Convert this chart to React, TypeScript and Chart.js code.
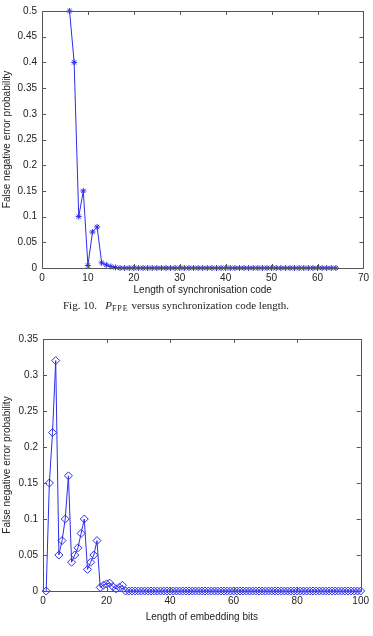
import React, { useEffect, useRef } from "react";
import { Chart, registerables } from "chart.js";

Chart.register(...registerables);

// Fig. 10: false negative error probability vs. synchronisation code length (6..64)
const syncStart = 6;
const syncErrorProb = [
  0.5, 0.4, 0.1, 0.15, 0.005, 0.07, 0.08, 0.01, 0.006, 0.003, 0.001,
  0, 0, 0, 0, 0, 0, 0, 0, 0, 0, 0, 0, 0, 0, 0, 0,
  0, 0, 0, 0, 0, 0, 0, 0, 0, 0, 0, 0, 0, 0, 0, 0,
  0, 0, 0, 0, 0, 0, 0, 0, 0, 0, 0, 0, 0, 0, 0, 0,
];
const syncXTicks = [0, 10, 20, 30, 40, 50, 60, 70];
const syncYMax = 0.5;

// Fig. 11: false negative error probability vs. embedding bit length (1..100)
const embedStart = 1;
const embedErrorProb = [
  0, 0.15, 0.22, 0.32, 0.05, 0.07, 0.1, 0.16, 0.04, 0.05,
  0.06, 0.08, 0.1, 0.03, 0.04, 0.05, 0.07, 0.005, 0.008, 0.01,
  0.011, 0.006, 0.003, 0.005, 0.008, 0, 0, 0, 0, 0,
  0, 0, 0, 0, 0, 0, 0, 0, 0, 0,
  0, 0, 0, 0, 0, 0, 0, 0, 0, 0,
  0, 0, 0, 0, 0, 0, 0, 0, 0, 0,
  0, 0, 0, 0, 0, 0, 0, 0, 0, 0,
  0, 0, 0, 0, 0, 0, 0, 0, 0, 0,
  0, 0, 0, 0, 0, 0, 0, 0, 0, 0,
  0, 0, 0, 0, 0, 0, 0, 0, 0, 0,
];
const embedXTicks = [0, 20, 40, 60, 80, 100];
const embedYMax = 0.35;

const yLabel = "False negative error probability";
const lineBlue = "rgb(45,45,235)";
const textColor = "#222";
const axisFont = "'Liberation Sans', Arial, Helvetica, sans-serif";

// Boxed axes with inward tick marks on all four sides
const boxAxes = {
  id: "boxAxes",
  afterDatasetsDraw(chart: any) {
    const { ctx, chartArea: a, scales } = chart;
    const len = 4;
    ctx.save();
    ctx.strokeStyle = "#555";
    ctx.lineWidth = 1;
    ctx.beginPath();
    ctx.rect(Math.round(a.left) + 0.5, Math.round(a.top) + 0.5, Math.round(a.right - a.left), Math.round(a.bottom - a.top));
    ctx.stroke();
    ctx.beginPath();
    scales.x.ticks.forEach((t: any) => {
      const px = Math.round(scales.x.getPixelForValue(t.value)) + 0.5;
      ctx.moveTo(px, a.bottom);
      ctx.lineTo(px, a.bottom - len);
      ctx.moveTo(px, a.top);
      ctx.lineTo(px, a.top + len);
    });
    scales.y.ticks.forEach((t: any) => {
      const py = Math.round(scales.y.getPixelForValue(t.value)) + 0.5;
      ctx.moveTo(a.left, py);
      ctx.lineTo(a.left + len, py);
      ctx.moveTo(a.right, py);
      ctx.lineTo(a.right - len, py);
    });
    ctx.stroke();
    ctx.restore();
  },
};

function makeConfig(opts: {
  start: number;
  values: number[];
  xTicks: number[];
  yMax: number;
  xTitle: string;
  pointStyle: string;
  pointRadius: number;
  padding: { top: number; right: number; bottom: number; left: number };
  yWidth: number;
  xHeight: number;
}) {
  const points = opts.values.map((v, i) => ({ x: opts.start + i, y: v }));
  const xMin = opts.xTicks[0];
  const xMax = opts.xTicks[opts.xTicks.length - 1];
  return {
    type: "line",
    data: {
      datasets: [
        {
          data: points,
          borderColor: lineBlue,
          borderWidth: 1,
          backgroundColor: "rgba(0,0,0,0)",
          pointStyle: opts.pointStyle,
          pointRadius: opts.pointRadius,
          pointBorderColor: lineBlue,
          pointBackgroundColor: "rgba(0,0,0,0)",
          pointBorderWidth: 1,
          tension: 0,
          clip: false,
        },
      ],
    },
    options: {
      animation: false,
      responsive: false,
      devicePixelRatio: 1,
      layout: { padding: opts.padding },
      plugins: { legend: { display: false }, tooltip: { enabled: false } },
      scales: {
        x: {
          type: "linear",
          min: xMin,
          max: xMax,
          afterBuildTicks: (s: any) => {
            s.ticks = opts.xTicks.map((v) => ({ value: v }));
          },
          afterFit: (s: any) => {
            s.height = opts.xHeight;
          },
          grid: { display: false, drawTicks: false },
          border: { display: false },
          ticks: {
            color: textColor,
            font: { family: axisFont, size: 10 },
            padding: 4,
            maxRotation: 0,
            callback: (v: any) => String(v),
          },
          title: {
            display: true,
            text: opts.xTitle,
            color: textColor,
            font: { family: axisFont, size: 10 },
            padding: { top: 0, bottom: 4 },
          },
        },
        y: {
          type: "linear",
          min: 0,
          max: opts.yMax,
          ticks: {
            stepSize: 0.05,
            color: textColor,
            font: { family: axisFont, size: 10 },
            padding: 5,
            callback: (v: any) => String(Math.round(Number(v) * 100) / 100),
          },
          afterFit: (s: any) => {
            s.width = opts.yWidth;
          },
          grid: { display: false, drawTicks: false },
          border: { display: false },
          title: {
            display: true,
            text: yLabel,
            color: textColor,
            font: { family: axisFont, size: 10 },
            padding: { top: 1, bottom: 1 },
          },
        },
      },
    },
    plugins: [boxAxes],
  } as any;
}

export default function App() {
  const syncRef = useRef<HTMLCanvasElement>(null);
  const embedRef = useRef<HTMLCanvasElement>(null);

  useEffect(() => {
    const c1 = new Chart(
      syncRef.current!,
      makeConfig({
        start: syncStart,
        values: syncErrorProb,
        xTicks: syncXTicks,
        yMax: syncYMax,
        xTitle: "Length of synchronisation code",
        pointStyle: "star",
        pointRadius: 3,
        padding: { top: 11, right: 5.5, bottom: 0, left: 0 },
        yWidth: 42,
        xHeight: 32,
      })
    );
    const c2 = new Chart(
      embedRef.current!,
      makeConfig({
        start: embedStart,
        values: embedErrorProb,
        xTicks: embedXTicks,
        yMax: embedYMax,
        xTitle: "Length of embedding bits",
        pointStyle: "rectRot",
        pointRadius: 4,
        padding: { top: 21, right: 10, bottom: 9, left: 0 },
        yWidth: 43,
        xHeight: 36,
      })
    );
    return () => {
      c1.destroy();
      c2.destroy();
    };
  }, []);

  return (
    <div
      style={{
        position: "absolute",
        left: 0,
        top: 0,
        width: 373,
        height: 636,
        background: "#fff",
        overflow: "hidden",
      }}
    >
      <canvas ref={syncRef} width={373} height={300} style={{ position: "absolute", left: 0, top: 0 }} />
      <div
        style={{
          position: "absolute",
          left: 63,
          top: 298,
          whiteSpace: "nowrap",
          fontFamily: "'Liberation Serif', 'Times New Roman', serif",
          fontSize: 11,
          lineHeight: "14px",
          color: "#222",
        }}
      >
        Fig. 10.&nbsp;&nbsp;&nbsp;
        <i>P</i>
        <sub style={{ fontSize: 8, fontVariant: "small-caps", letterSpacing: 1, verticalAlign: "-2px" }}>FPE</sub> versus synchronization code length.
      </div>
      <canvas ref={embedRef} width={373} height={318} style={{ position: "absolute", left: 0, top: 318 }} />
    </div>
  );
}
